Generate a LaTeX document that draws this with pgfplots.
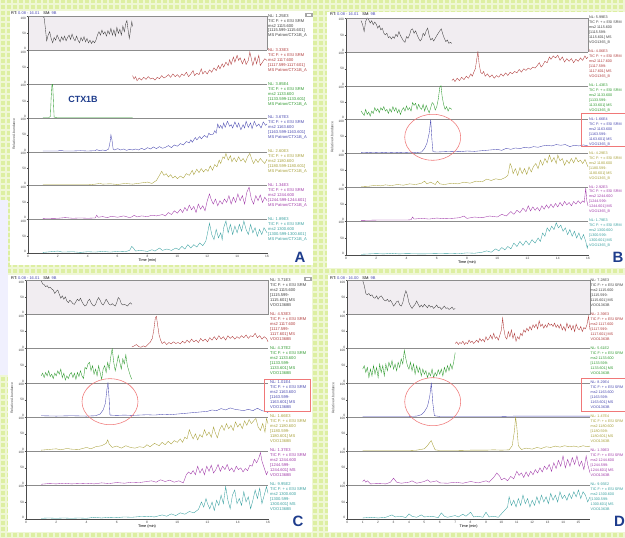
\documentclass[border=0pt]{standalone}
\usepackage{pgfplots}
\pgfplotsset{compat=1.18}
\usepackage{fontspec}
\setmainfont{Liberation Sans}
\setsansfont{Liberation Sans}
\definecolor{tk}{HTML}{404040}
\definecolor{tr}{HTML}{B03A3A}
\definecolor{tg}{HTML}{2E9A2E}
\definecolor{tb}{HTML}{4848B0}
\definecolor{to}{HTML}{A8A038}
\definecolor{tm}{HTML}{A038A8}
\definecolor{tt}{HTML}{38A0A0}
\definecolor{bgg}{HTML}{DDEFA2}
\definecolor{topbg}{HTML}{F1EDF1}
\definecolor{navy}{HTML}{1E3C8C}
\definecolor{redc}{HTML}{F07878}
\newcommand\lb{[}
\pgfplotsset{
 sub/.style={scale only axis, anchor=north west, xmin=0, ymin=0, ymax=100,
  ytick={0,50,100}, xtick=\empty, axis lines*=left, tick align=outside,
  major tick length=1.3bp,
  /pgf/number format/assume math mode=true,
  yticklabel={\ifcase\ticknum\raisebox{1.7bp}[\height][\depth]{0}\or 50\or\raisebox{-1.7bp}[\height][\depth]{100}\fi},
  ticklabel style={font=\fontsize{3.2}{3.5}\selectfont, text=black!75, inner sep=0.6bp},
  x axis line style={draw=black!45, line width=0.35bp},
  y axis line style={draw=black!70, line width=0.35bp},
  every tick/.style={black!70, line width=0.3bp},
 },
 first/.style={axis background/.style={fill=topbg},
  extra description/.code={\draw[black!45, line width=0.35bp] (rel axis cs:0,1)--(rel axis cs:1,1)--(rel axis cs:1,0);}},
 last/.style={x axis line style={draw=black!70}, xlabel={Time (min)},
  xlabel style={font=\fontsize{3.8}{4}\selectfont, inner sep=0pt, yshift=-0.6bp}},
}
% #1 left, #2 top, #3 width, #4 height, #5 xmax, #6 extra opts, #7 color, #8 coords
\newcommand\chrom[8]{%
\begin{axis}[sub, at={(#1bp,#2bp)}, width=#3bp, height=#4bp, xmax=#5, #6]
\addplot[#7, line width=0.35bp] coordinates {#8};
\end{axis}}
\newcommand\lab[4]{\node[anchor=north west, align=left, inner sep=0pt, text=#3, font=\fontsize{4.1}{5.0}\selectfont] at (#1,#2) {#4};}
\newcommand\labs[4]{\node[anchor=north west, align=left, inner sep=0pt, text=#3, font=\fontsize{3.7}{5.0}\selectfont] at (#1,#2) {#4};}
\newcommand\rt[3]{\node[anchor=west, inner sep=0pt, font=\fontsize{4}{4}\selectfont] at (#1,#2) {RT: \textcolor{tb}{#3}\quad SM: \textcolor{tb}{9B}};}
\newcommand\icon[2]{\fill[black!35] (#1,#2) rectangle ++(8,4); \fill[white] (#1+2,#2+1) rectangle ++(4,2);}
\begin{document}
\begin{tikzpicture}[x=1bp,y=1bp]
\useasboundingbox (0,0) rectangle (625,538);
\clip (0,0) rectangle (625,538);
\fill[bgg] (0,0) rectangle (625,538);
\draw[white, opacity=0.55, line width=1.3bp, step=6bp] (0,0) grid (625,538);
\fill[white] (10,273) rectangle (313,527);
\fill[white] (327,270) rectangle (626,526);
\fill[white] (8,6) rectangle (312,263);
\fill[white] (328,6) rectangle (626,263);
\fill[black!8!blue!6] (0,163) rectangle (8,338);
%================ PANEL A
\chrom{28}{521.5}{239}{33.8}{16}{first}{tk}{(1.0,100)(1.08,96)(1.15,70)(1.25,28)(1.35,45)(1.45,55)(1.55,35)(1.65,22)(1.75,38)(1.85,30)(1.95,45)(2.05,35)(2.15,25)(2.25,40)(2.35,30)(2.45,42)(2.55,28)(2.65,38)(2.75,45)(2.85,32)(2.95,48)(3.05,35)(3.15,28)(3.25,42)(3.35,30)(3.45,22)(3.55,38)(3.65,28)(3.75,40)(3.85,25)(3.95,35)(4.05,22)(4.15,30)(4.25,20)(4.35,28)(4.45,22)(4.55,30)(4.65,45)(4.75,55)(4.85,45)(4.95,60)(5.05,48)(5.15,55)(5.25,42)(5.35,58)(5.45,48)(5.55,65)(5.65,45)(5.75,60)(5.85,42)(5.95,68)(6.05,50)(6.15,62)(6.25,45)(6.35,72)(6.45,55)(6.55,80)(6.62,88)(6.7,60)(6.78,35)(6.88,65)(6.95,85)(7.0,70)}
\chrom{28}{487.7}{239}{33.8}{16}{}{tr}{(7.0,25)(7.1,15)(7.2,22)(7.3,10)(7.45,18)(7.6,12)(7.75,20)(7.9,14)(8.05,22)(8.2,15)(8.35,18)(8.5,12)(8.65,20)(8.8,16)(8.95,25)(9.1,18)(9.25,22)(9.4,28)(9.55,20)(9.7,30)(9.85,22)(10.0,28)(10.15,20)(10.3,30)(10.45,25)(10.6,35)(10.75,22)(10.9,30)(11.05,40)(11.15,25)(11.3,32)(11.45,28)(11.6,45)(11.7,30)(11.85,38)(12.0,30)(12.15,42)(12.3,35)(12.45,48)(12.6,40)(12.75,55)(12.85,45)(13.0,60)(13.1,50)(13.25,65)(13.4,55)(13.5,72)(13.6,58)(13.75,80)(13.85,65)(14.0,85)(14.1,70)(14.2,78)(14.35,60)(14.5,75)(14.6,58)(14.75,70)(14.85,95)(14.95,75)(15.05,55)(15.2,80)(15.3,60)(15.45,85)(15.55,55)(15.7,65)(15.85,75)(16.0,70)}
\chrom{28}{453.9}{239}{33.8}{16}{}{tg}{(1.0,1)(1.4,1)(1.5,5)(1.55,60)(1.6,95)(1.65,100)(1.7,50)(1.75,2)(2.0,1)(3,1)(4,1)(5,1)(6,1)(7,1)}
\chrom{28}{420.1}{239}{33.8}{16}{}{tb}{(1.0,2)(2.0,2)(2.2,4)(2.4,2)(3.0,2)(3.5,3)(4.0,2)(4.5,3)(4.6,6)(4.8,3)(5.0,5)(5.2,3)(5.4,8)(5.5,30)(5.55,50)(5.62,35)(5.7,8)(5.8,5)(6.0,9)(6.2,5)(6.4,8)(6.6,4)(6.8,7)(7.0,5)(7.2,8)(7.4,5)(7.6,10)(7.8,6)(8.0,12)(8.2,8)(8.4,14)(8.6,9)(8.8,15)(9.0,10)(9.2,13)(9.4,18)(9.6,12)(9.8,20)(10.0,16)(10.2,24)(10.4,20)(10.6,30)(10.8,26)(10.9,35)(11.0,28)(11.2,42)(11.3,35)(11.5,45)(11.6,38)(11.8,48)(12.0,42)(12.1,55)(12.2,50)(12.4,52)(12.5,62)(12.6,55)(12.7,82)(12.8,70)(12.9,78)(13.0,68)(13.1,85)(13.2,72)(13.35,90)(13.5,75)(13.6,80)(13.7,70)(13.85,88)(14.0,72)(14.1,85)(14.25,65)(14.4,80)(14.5,70)(14.6,90)(14.75,72)(14.9,85)(15.0,68)(15.15,90)(15.3,75)(15.45,82)(15.6,70)(15.75,88)(15.9,78)(16.0,82)}
\chrom{28}{386.3}{239}{33.8}{16}{}{to}{(1.0,2)(2.0,2)(3.0,2)(4.0,2)(4.5,4)(4.8,6)(5.0,4)(5.5,5)(6.0,3)(6.5,6)(7.0,4)(7.5,7)(8.0,10)(8.3,6)(8.6,15)(8.8,30)(8.95,42)(9.1,30)(9.25,35)(9.4,25)(9.55,32)(9.7,22)(9.85,28)(10.0,20)(10.2,28)(10.4,22)(10.6,35)(10.8,30)(11.0,45)(11.1,32)(11.3,48)(11.45,38)(11.6,50)(11.75,40)(11.9,48)(12.05,42)(12.2,58)(12.35,45)(12.5,62)(12.65,55)(12.8,75)(12.9,65)(13.05,85)(13.15,80)(13.25,95)(13.4,75)(13.55,88)(13.65,70)(13.8,82)(13.95,70)(14.1,85)(14.25,72)(14.4,80)(14.55,68)(14.7,85)(14.85,95)(15.0,75)(15.1,65)(15.25,78)(15.4,68)(15.55,80)(15.7,72)(15.85,65)(16.0,78)}
\chrom{28}{352.5}{239}{33.8}{16}{}{tm}{(1.0,2)(2,3)(2.5,5)(3,3)(3.5,4)(4,3)(4.5,4)(4.6,12)(4.7,6)(5,8)(5.3,5)(5.6,9)(6,6)(6.4,10)(6.8,5)(7.0,8)(7.1,12)(7.3,7)(7.6,10)(8,8)(8.3,12)(8.6,10)(9,14)(9.2,10)(9.4,20)(9.6,14)(9.8,25)(10,18)(10.2,30)(10.35,20)(10.5,35)(10.65,25)(10.8,42)(10.95,28)(11.1,38)(11.25,20)(11.4,45)(11.55,30)(11.7,40)(11.85,25)(12.0,55)(12.15,75)(12.25,60)(12.4,45)(12.55,60)(12.7,40)(12.85,55)(13.0,45)(13.15,60)(13.3,50)(13.45,70)(13.6,45)(13.75,65)(13.9,50)(14.05,75)(14.2,55)(14.35,70)(14.5,45)(14.65,80)(14.8,95)(14.95,60)(15.1,45)(15.25,70)(15.4,55)(15.55,72)(15.7,50)(15.85,65)(16.0,55)}
\chrom{28}{318.7}{239}{33.8}{16}{last, xtick={0,2,...,16}}{tt}{(1.0,2)(1.5,4)(2.0,6)(2.3,3)(3,4)(3.5,2)(4,4)(4.5,3)(5,5)(5.5,3)(6,5)(6.5,4)(6.8,8)(6.95,20)(7.05,15)(7.2,6)(7.5,8)(8,5)(8.3,10)(8.5,6)(8.8,15)(9,8)(9.3,12)(9.6,8)(9.9,15)(10.1,10)(10.3,20)(10.5,12)(10.7,25)(10.9,15)(11.1,25)(11.3,18)(11.5,30)(11.7,22)(11.9,35)(12.0,55)(12.15,88)(12.3,55)(12.45,40)(12.6,70)(12.75,45)(12.9,60)(13.0,40)(13.1,75)(13.25,95)(13.4,60)(13.55,85)(13.7,55)(13.85,80)(14.0,60)(14.15,85)(14.3,65)(14.45,95)(14.6,70)(14.75,55)(14.9,85)(15.05,60)(15.2,75)(15.35,50)(15.5,70)(15.65,55)(15.8,75)(16.0,60)}
\lab{268}{524}{tk}{NL: 1.25E3\\TIC F: + c ESI SRM\\ms2 1115.600\\\lb 1115.599-1115.601]\\MS Patron/CTX1B\_A}
\lab{268}{489.7}{tr}{NL: 3.33E3\\TIC F: + c ESI SRM\\ms2 1117.600\\\lb 1117.599-1117.601]\\MS Patron/CTX1B\_A}
\lab{268}{455.9}{tg}{NL: 3.85E4\\TIC F: + c ESI SRM\\ms2 1133.600\\\lb 1133.599-1133.601]\\MS Patron/CTX1B\_A}
\lab{268}{422.1}{tb}{NL: 3.67E3\\TIC F: + c ESI SRM\\ms2 1163.600\\\lb 1163.599-1163.601]\\MS Patron/CTX1B\_A}
\lab{268}{388.3}{to}{NL: 2.60E3\\TIC F: + c ESI SRM\\ms2 1180.600\\\lb 1180.599-1180.601]\\MS Patron/CTX1B\_A}
\lab{268}{354.5}{tm}{NL: 1.34E3\\TIC F: + c ESI SRM\\ms2 1244.600\\\lb 1244.599-1244.601]\\MS Patron/CTX1B\_A}
\lab{268}{320.7}{tt}{NL: 1.89E3\\TIC F: + c ESI SRM\\ms2 1300.600\\\lb 1300.599-1300.601]\\MS Patron/CTX1B\_A}
\rt{11}{524.5}{0.08 - 16.01}
\icon{305}{521}
\node[rotate=90, font=\fontsize{3.5}{4}\selectfont, text=black!70] at (14,404) {Relative Abundance};
\node[font=\fontsize{9}{9}\selectfont\bfseries, text=navy] at (83,439) {CTX1B};
\node[font=\fontsize{15}{15}\selectfont\bfseries, text=navy] at (300,281) {A};
%================ PANEL B
\chrom{346}{520}{242}{33.85}{16}{first}{tk}{(1.0,92)(1.1,80)(1.2,60)(1.3,90)(1.4,100)(1.5,95)(1.6,85)(1.7,92)(1.8,80)(1.9,88)(2.0,82)(2.1,70)(2.2,78)(2.3,65)(2.4,70)(2.5,55)(2.6,50)(2.7,55)(2.8,42)(2.9,45)(3.0,38)(3.1,45)(3.2,40)(3.3,52)(3.4,45)(3.5,60)(3.6,48)(3.7,40)(3.8,32)(3.9,28)(4.0,45)(4.1,40)(4.2,50)(4.3,65)(4.4,68)(4.5,55)(4.6,62)(4.7,50)(4.8,40)(4.9,32)(5.0,38)(5.1,55)(5.2,48)(5.3,62)(5.4,70)(5.5,48)(5.6,35)(5.7,40)(5.8,32)(5.9,40)(6.0,48)(6.1,55)(6.2,62)(6.3,68)(6.4,52)(6.5,40)(6.6,30)(6.7,35)(6.8,25)(6.9,28)(7.0,25)}
\chrom{346}{486.15}{242}{33.85}{16}{}{tr}{(7.0,15)(7.1,20)(7.2,12)(7.35,22)(7.5,15)(7.65,25)(7.8,18)(7.95,28)(8.1,22)(8.25,35)(8.35,28)(8.45,40)(8.55,50)(8.65,80)(8.72,100)(8.8,65)(8.9,40)(9.0,35)(9.1,42)(9.2,28)(9.35,35)(9.5,25)(9.65,32)(9.8,22)(9.95,30)(10.1,25)(10.25,35)(10.4,28)(10.55,38)(10.7,30)(10.85,40)(11.0,35)(11.15,42)(11.3,38)(11.45,48)(11.6,40)(11.75,50)(11.9,45)(12.05,52)(12.2,48)(12.35,55)(12.5,52)(12.65,60)(12.78,68)(12.9,55)(13.0,60)(13.15,72)(13.3,68)(13.45,85)(13.55,78)(13.7,88)(13.85,82)(14.0,90)(14.15,75)(14.3,85)(14.45,70)(14.6,80)(14.75,72)(14.9,80)(15.05,68)(15.2,78)(15.35,72)(15.5,82)(15.65,75)(15.8,88)(15.9,80)(16.0,85)}
\chrom{346}{452.3}{242}{33.85}{16}{}{tg}{(1.0,25)(1.1,18)(1.2,12)(1.3,30)(1.4,15)(1.5,22)(1.6,10)(1.7,25)(1.8,18)(1.9,35)(2.0,25)(2.1,32)(2.2,20)(2.3,35)(2.4,28)(2.5,38)(2.6,25)(2.7,30)(2.8,18)(2.9,32)(3.0,22)(3.1,38)(3.2,25)(3.3,35)(3.4,20)(3.5,30)(3.6,15)(3.7,28)(3.8,35)(3.9,25)(4.0,40)(4.1,28)(4.2,35)(4.3,25)(4.4,50)(4.5,42)(4.6,48)(4.7,30)(4.8,45)(4.9,35)(5.0,30)(5.1,45)(5.2,25)(5.3,42)(5.4,30)(5.5,20)(5.6,35)(5.7,50)(5.8,45)(5.9,28)(6.0,38)(6.1,60)(6.2,95)(6.28,100)(6.35,70)(6.45,45)(6.55,30)(6.65,38)(6.75,25)(6.85,35)(7.0,30)}
\chrom{346}{418.45}{242}{33.85}{16}{}{tb}{(1.0,3)(1.5,2)(2,3)(2.5,2)(3,3)(3.5,2)(4,3)(4.5,2)(5.0,4)(5.2,15)(5.35,30)(5.5,60)(5.6,100)(5.68,40)(5.75,5)(6.0,4)(6.5,5)(7,6)(7.5,5)(8,7)(8.5,6)(9,8)(9.5,10)(10,12)(10.3,9)(10.6,15)(10.9,12)(11.2,16)(11.5,14)(11.8,18)(12.1,16)(12.4,20)(12.7,18)(13.0,22)(13.3,24)(13.6,22)(13.9,26)(14.2,24)(14.5,26)(14.8,20)(15.1,24)(15.4,22)(15.7,25)(16.0,22)}
\chrom{346}{384.6}{242}{33.85}{16}{}{to}{(1.0,2)(1.5,3)(2.0,6)(2.3,4)(2.6,7)(3.0,5)(3.4,8)(3.8,6)(4.2,10)(4.6,8)(5.0,12)(5.2,18)(5.35,10)(5.6,15)(5.9,8)(6.05,18)(6.2,10)(6.5,8)(7.0,12)(7.4,10)(7.8,15)(8.2,12)(8.6,18)(9.0,16)(9.3,24)(9.6,20)(9.9,25)(10.2,22)(10.5,28)(10.7,35)(10.85,70)(10.95,60)(11.05,40)(11.2,55)(11.35,35)(11.5,58)(11.65,40)(11.8,55)(11.95,38)(12.1,60)(12.25,45)(12.4,62)(12.55,70)(12.7,55)(12.85,80)(13.0,65)(13.15,85)(13.3,72)(13.45,95)(13.6,75)(13.75,88)(13.9,70)(14.0,95)(14.15,78)(14.3,85)(14.45,65)(14.6,80)(14.75,70)(14.9,85)(15.05,72)(15.2,88)(15.35,75)(15.5,80)(15.65,70)(15.8,82)(16.0,60)}
\chrom{346}{350.75}{242}{33.85}{16}{}{tm}{(1.0,2)(2,3)(3,3)(4,3)(4.3,4)(4.4,12)(4.5,6)(5,8)(5.5,6)(6,9)(6.5,7)(7,8)(7.5,10)(7.8,15)(8.0,8)(8.5,12)(9,10)(9.5,15)(10,12)(10.3,20)(10.6,15)(10.9,28)(11.1,20)(11.3,32)(11.5,25)(11.7,38)(11.9,28)(12.05,45)(12.2,30)(12.35,42)(12.5,32)(12.65,40)(12.8,30)(12.95,45)(13.1,35)(13.25,48)(13.4,38)(13.55,50)(13.7,40)(13.85,52)(14.0,42)(14.15,55)(14.3,45)(14.45,58)(14.6,48)(14.75,55)(14.9,45)(15.05,58)(15.2,50)(15.35,60)(15.5,52)(15.65,60)(15.75,55)(15.85,98)(15.92,60)(16.0,45)}
\chrom{346}{316.9}{242}{33.85}{16}{last, xtick={0,2,...,16}}{tt}{(1.0,2)(2,4)(2.5,3)(3,5)(3.5,3)(4,4)(5,3)(6,4)(7,5)(7.5,4)(8,6)(8.5,5)(9,8)(9.3,12)(9.6,8)(9.9,18)(10.1,12)(10.3,22)(10.5,15)(10.7,25)(10.9,18)(11.1,35)(11.3,25)(11.5,40)(11.7,28)(11.9,42)(12.1,30)(12.3,45)(12.5,35)(12.7,50)(12.85,40)(13.0,65)(13.15,55)(13.3,80)(13.45,70)(13.6,85)(13.75,75)(13.9,95)(14.05,80)(14.2,88)(14.35,70)(14.5,80)(14.65,60)(14.8,75)(14.95,55)(15.1,70)(15.25,50)(15.4,65)(15.55,45)(15.7,60)(15.85,40)(15.95,20)(16.0,30)}
\labs{589}{522}{tk}{NL: 5.99E3\\TIC F: + c ESI SRM\\ms2 1115.600\\\lb 1115.599-\\1115.601] MS\\VOO1365\_B}
\labs{589}{488.15}{tr}{NL: 4.06E3\\TIC F: + c ESI SRM\\ms2 1117.600\\\lb 1117.599-\\1117.601] MS\\VOO1365\_B}
\labs{589}{454.3}{tg}{NL: 1.43E3\\TIC F: + c ESI SRM\\ms2 1133.600\\\lb 1133.599-\\1133.601] MS\\VOO1365\_B}
\labs{589}{420.45}{tb}{NL: 1.66E4\\TIC F: + c ESI SRM\\ms2 1163.600\\\lb 1163.599-\\1163.601] MS\\VOO1365\_B}
\labs{589}{386.6}{to}{NL: 4.29E3\\TIC F: + c ESI SRM\\ms2 1180.600\\\lb 1180.599-\\1180.601] MS\\VOO1365\_B}
\labs{589}{352.75}{tm}{NL: 2.92E3\\TIC F: + c ESI SRM\\ms2 1244.600\\\lb 1244.599-\\1244.601] MS\\VOO1365\_B}
\labs{589}{318.9}{tt}{NL: 1.79E3\\TIC F: + c ESI SRM\\ms2 1300.600\\\lb 1300.599-\\1300.601] MS\\VOO1365\_B}
\rt{330}{524}{0.08 - 16.01}
\node[rotate=90, font=\fontsize{3.5}{4}\selectfont, text=black!70] at (332,401) {Relative Abundance};
\draw[redc, line width=0.55bp] (432.7,400.7) ellipse [x radius=28, y radius=23];
\draw[redc, line width=0.55bp] (581.7,424.7) rectangle (630,392);
\node[font=\fontsize{15}{15}\selectfont\bfseries, text=navy] at (618,281) {B};
%================ PANEL C
\chrom{26}{257.5}{242}{34.07}{16}{first}{tk}{(1.0,100)(1.1,90)(1.2,88)(1.3,82)(1.4,85)(1.5,78)(1.6,80)(1.7,75)(1.8,72)(1.9,62)(2.0,68)(2.1,72)(2.2,60)(2.3,48)(2.4,55)(2.5,45)(2.6,52)(2.7,40)(2.8,35)(2.9,42)(3.0,38)(3.1,32)(3.2,30)(3.3,38)(3.4,45)(3.5,40)(3.6,48)(3.7,38)(3.8,30)(3.9,25)(4.0,28)(4.1,40)(4.2,45)(4.3,35)(4.4,28)(4.5,25)(4.6,30)(4.7,42)(4.8,50)(4.9,42)(5.0,32)(5.1,28)(5.2,35)(5.3,45)(5.4,38)(5.5,30)(5.6,28)(5.7,32)(5.8,28)(5.9,25)(6.0,35)(6.1,50)(6.2,45)(6.3,32)(6.4,28)(6.5,30)(6.6,28)(6.7,25)(6.8,30)(6.9,35)(7.0,30)}
\chrom{26}{223.43}{242}{34.07}{16}{}{tr}{(7.0,5)(7.15,8)(7.3,12)(7.45,6)(7.6,4)(7.75,8)(7.9,5)(8.05,12)(8.2,18)(8.35,30)(8.45,55)(8.55,90)(8.62,95)(8.7,70)(8.8,40)(8.9,25)(9.0,15)(9.15,20)(9.3,12)(9.45,18)(9.6,14)(9.75,20)(9.9,15)(10.05,18)(10.2,14)(10.35,22)(10.5,16)(10.65,25)(10.8,18)(10.95,28)(11.1,20)(11.25,25)(11.4,18)(11.55,30)(11.7,22)(11.85,28)(12.0,20)(12.15,32)(12.3,25)(12.45,35)(12.6,26)(12.75,38)(12.9,28)(13.05,35)(13.2,25)(13.35,38)(13.5,30)(13.65,36)(13.8,28)(13.95,35)(14.1,30)(14.25,38)(14.4,32)(14.55,40)(14.7,30)(14.85,38)(15.0,35)(15.15,45)(15.3,32)(15.45,38)(15.6,28)(15.75,35)(15.9,30)(16.0,20)}
\chrom{26}{189.36}{242}{34.07}{16}{}{tg}{(1.0,20)(1.1,28)(1.2,15)(1.3,30)(1.4,20)(1.5,35)(1.6,18)(1.7,25)(1.8,12)(1.9,28)(2.0,20)(2.1,35)(2.2,25)(2.3,40)(2.4,15)(2.5,28)(2.6,8)(2.7,20)(2.8,12)(2.9,25)(3.0,30)(3.1,15)(3.2,28)(3.3,10)(3.4,30)(3.5,18)(3.6,35)(3.7,20)(3.8,12)(3.9,45)(4.0,40)(4.1,55)(4.2,60)(4.3,35)(4.4,50)(4.5,25)(4.6,40)(4.7,20)(4.8,50)(4.9,30)(5.0,10)(5.1,40)(5.2,50)(5.3,30)(5.4,60)(5.5,40)(5.6,75)(5.7,100)(5.8,60)(5.9,35)(6.0,55)(6.1,80)(6.2,60)(6.3,40)(6.4,70)(6.5,55)(6.6,82)(6.7,50)(6.8,35)(6.9,20)(7.0,10)}
\chrom{26}{155.29}{242}{34.07}{16}{}{tb}{(1.0,3)(2,2)(3,3)(4,2)(4.6,3)(4.9,8)(5.1,20)(5.25,40)(5.35,80)(5.42,100)(5.5,50)(5.55,5)(6,4)(6.5,5)(7,4)(7.5,5)(8,6)(8.5,5)(9,7)(9.5,6)(10,8)(10.5,10)(11,12)(11.5,14)(12,16)(12.3,20)(12.6,18)(12.9,24)(13.2,20)(13.5,26)(13.8,22)(14.1,20)(14.4,18)(14.7,22)(15.0,18)(15.3,25)(15.6,18)(15.9,15)(16.0,12)}
\chrom{26}{121.22}{242}{34.07}{16}{}{to}{(1.0,2)(1.5,4)(2.0,6)(2.3,3)(2.7,7)(3.0,5)(3.5,4)(4.0,10)(4.3,6)(4.6,12)(5.0,15)(5.3,22)(5.4,32)(5.5,20)(5.7,10)(6.0,14)(6.3,8)(6.6,15)(6.9,10)(7.2,8)(7.5,12)(7.8,10)(8.0,18)(8.2,12)(8.5,22)(8.8,15)(9.0,25)(9.2,18)(9.4,28)(9.6,20)(9.8,30)(10.0,25)(10.2,35)(10.35,25)(10.5,40)(10.65,35)(10.8,62)(10.9,50)(11.05,35)(11.2,50)(11.35,32)(11.5,48)(11.65,40)(11.8,62)(11.95,45)(12.1,55)(12.25,40)(12.4,70)(12.5,55)(12.65,38)(12.8,62)(12.95,75)(13.1,60)(13.25,80)(13.4,65)(13.55,75)(13.7,60)(13.85,85)(14.0,70)(14.15,80)(14.3,65)(14.45,88)(14.6,75)(14.75,92)(14.9,80)(15.05,88)(15.2,95)(15.35,70)(15.5,60)(15.65,80)(15.8,55)(15.9,95)(16.0,80)}
\chrom{26}{87.15}{242}{34.07}{16}{}{tm}{(1.0,2)(1.5,4)(2,3)(2.5,5)(3,3)(3.5,4)(4,5)(4.5,3)(5,6)(5.5,4)(6,7)(6.5,5)(7,8)(7.5,7)(8,10)(8.3,12)(8.6,8)(8.9,15)(9.2,10)(9.5,14)(9.8,8)(10.1,12)(10.4,6)(10.6,30)(10.75,38)(10.9,32)(11.05,42)(11.2,30)(11.35,55)(11.5,35)(11.65,48)(11.8,30)(11.95,55)(12.1,40)(12.25,58)(12.4,35)(12.55,45)(12.7,60)(12.85,40)(13.0,55)(13.15,45)(13.3,60)(13.45,42)(13.6,50)(13.75,38)(13.9,55)(14.05,45)(14.2,50)(14.35,38)(14.5,48)(14.65,42)(14.8,58)(14.95,55)(15.1,75)(15.25,65)(15.4,80)(15.5,95)(15.6,70)(15.75,50)(15.9,30)(16.0,40)}
\chrom{26}{53.08}{242}{34.07}{16}{last, xtick={0,2,...,16}}{tt}{(1.0,2)(1.5,3)(2,2)(2.5,3)(3,2)(3.5,3)(4,2)(4.5,5)(5,3)(5.5,5)(6,4)(6.5,6)(7,5)(7.5,7)(8,8)(8.5,6)(9,12)(9.3,8)(9.6,15)(9.9,10)(10.2,18)(10.5,14)(10.8,22)(11.1,18)(11.4,28)(11.6,50)(11.75,35)(11.9,60)(12.0,45)(12.15,30)(12.3,50)(12.45,25)(12.6,55)(12.75,40)(12.9,70)(13.05,45)(13.2,95)(13.35,55)(13.5,30)(13.65,70)(13.8,85)(13.95,45)(14.1,60)(14.25,40)(14.4,80)(14.55,50)(14.7,65)(14.85,30)(15.0,55)(15.15,85)(15.3,60)(15.45,90)(15.6,45)(15.75,70)(15.9,95)(16.0,75)}
\lab{270}{259.5}{tk}{NL: 3.71E3\\TIC F: + c ESI SRM\\ms2 1115.600\\\lb 1115.599-\\1115.601] MS\\VOO1368B}
\lab{270}{225.43}{tr}{NL: 4.53E3\\TIC F: + c ESI SRM\\ms2 1117.600\\\lb 1117.599-\\1117.601] MS\\VOO1368B}
\lab{270}{191.36}{tg}{NL: 4.37E2\\TIC F: + c ESI SRM\\ms2 1133.600\\\lb 1133.599-\\1133.601] MS\\VOO1368B}
\lab{270}{157.29}{tb}{NL: 1.01E4\\TIC F: + c ESI SRM\\ms2 1163.600\\\lb 1163.599-\\1163.601] MS\\VOO1368B}
\lab{270}{123.22}{to}{NL: 1.66E3\\TIC F: + c ESI SRM\\ms2 1180.600\\\lb 1180.599-\\1180.601] MS\\VOO1368B}
\lab{270}{89.15}{tm}{NL: 1.37E3\\TIC F: + c ESI SRM\\ms2 1244.600\\\lb 1244.599-\\1244.601] MS\\VOO1368B}
\lab{270}{55.08}{tt}{NL: 9.95E2\\TIC F: + c ESI SRM\\ms2 1300.600\\\lb 1300.599-\\1300.601] MS\\VOO1368B}
\rt{11}{260}{0.08 - 16.01}
\icon{304}{257}
\node[rotate=90, font=\fontsize{3.5}{4}\selectfont, text=black!70] at (12,140) {Relative Abundance};
\draw[redc, line width=0.55bp] (110,136.3) ellipse [x radius=28, y radius=23];
\draw[redc, line width=0.55bp] (264.3,159) rectangle (310.7,126.3);
\node[font=\fontsize{15}{15}\selectfont\bfseries, text=navy] at (298,17) {C};
%================ PANEL D
\chrom{347.3}{257.5}{242.7}{34.07}{15.75}{first}{tk}{(1.0,100)(1.1,85)(1.2,62)(1.3,58)(1.4,62)(1.5,55)(1.6,58)(1.7,50)(1.8,48)(1.9,55)(2.0,45)(2.1,52)(2.2,55)(2.3,48)(2.4,42)(2.5,40)(2.6,45)(2.7,38)(2.8,42)(2.9,35)(3.0,25)(3.1,30)(3.2,38)(3.3,40)(3.4,28)(3.5,25)(3.6,35)(3.7,55)(3.8,70)(3.88,60)(4.0,35)(4.1,25)(4.2,18)(4.3,25)(4.4,30)(4.5,40)(4.6,30)(4.7,22)(4.8,28)(4.9,22)(5.0,30)(5.1,25)(5.2,20)(5.3,28)(5.4,22)(5.5,25)(5.6,18)(5.7,22)(5.8,28)(5.9,20)(6.0,22)(6.1,15)(6.2,20)(6.3,25)(6.4,18)(6.5,20)(6.6,15)(6.7,18)(6.8,22)(6.9,15)(7.0,18)}
\chrom{347.3}{223.43}{242.7}{34.07}{15.75}{}{tr}{(7.0,15)(7.1,20)(7.2,12)(7.3,18)(7.4,15)(7.5,22)(7.6,12)(7.7,18)(7.8,14)(7.9,25)(8.0,18)(8.1,22)(8.2,15)(8.3,20)(8.4,25)(8.5,18)(8.6,30)(8.7,22)(8.8,28)(8.9,20)(9.0,35)(9.1,25)(9.2,30)(9.3,40)(9.4,28)(9.5,45)(9.6,30)(9.7,35)(9.8,25)(9.9,40)(10.0,55)(10.08,90)(10.15,60)(10.25,35)(10.35,28)(10.45,50)(10.55,35)(10.65,55)(10.75,30)(10.85,45)(10.95,22)(11.05,35)(11.15,28)(11.25,45)(11.35,38)(11.45,55)(11.55,48)(11.65,60)(11.75,52)(11.85,65)(11.95,55)(12.05,70)(12.15,62)(12.25,72)(12.35,58)(12.45,82)(12.55,65)(12.65,72)(12.75,60)(12.85,70)(12.95,62)(13.05,75)(13.15,68)(13.25,72)(13.35,65)(13.45,75)(13.55,62)(13.65,70)(13.75,60)(13.85,72)(13.95,55)(14.05,65)(14.15,52)(14.25,75)(14.35,60)(14.45,70)(14.55,55)(14.65,68)(14.75,50)(14.85,72)(14.95,60)(15.05,55)(15.15,65)(15.25,50)(15.35,62)(15.45,58)(15.55,70)(15.65,95)(15.75,55)}
\chrom{347.3}{189.36}{242.7}{34.07}{15.75}{}{tg}{(1.0,40)(1.1,50)(1.2,30)(1.3,45)(1.4,15)(1.5,40)(1.6,20)(1.7,50)(1.8,25)(1.9,45)(2.0,15)(2.1,55)(2.2,30)(2.3,50)(2.4,20)(2.5,55)(2.6,35)(2.7,60)(2.8,45)(2.9,65)(3.0,40)(3.1,55)(3.2,35)(3.3,60)(3.4,45)(3.5,70)(3.6,55)(3.7,95)(3.8,70)(3.9,50)(4.0,40)(4.1,60)(4.2,35)(4.3,55)(4.4,25)(4.5,50)(4.6,30)(4.7,45)(4.8,20)(4.9,40)(5.0,25)(5.1,35)(5.2,15)(5.3,30)(5.4,20)(5.5,40)(5.6,15)(5.7,30)(5.8,20)(5.9,38)(6.0,25)(6.1,40)(6.2,20)(6.3,45)(6.4,30)(6.5,50)(6.6,35)(6.7,55)(6.8,40)(6.9,60)(7.0,88)}
\chrom{347.3}{155.29}{242.7}{34.07}{15.75}{}{tb}{(1.0,1)(2,1)(3,1)(4,1)(4.5,2)(4.8,6)(5.0,15)(5.2,30)(5.35,60)(5.45,100)(5.55,40)(5.65,3)(6,1)(7,1)(8,1)(9,1)(10,1)(11,2)(12,2)(13,2)(14,2)(15,2)(15.75,2)}
\chrom{347.3}{121.22}{242.7}{34.07}{15.75}{}{to}{(1.0,1)(2,1)(3,1)(4,1)(4.5,2)(5.0,6)(5.2,15)(5.35,25)(5.45,30)(5.55,18)(5.7,3)(6,1)(7,1)(8,2)(9,2)(9.5,3)(10.0,2)(10.5,3)(10.7,15)(10.85,60)(10.92,100)(11.0,70)(11.1,15)(11.3,4)(11.6,8)(12.0,5)(12.3,10)(12.6,7)(12.9,12)(13.2,10)(13.5,14)(13.8,11)(14.1,15)(14.4,12)(14.7,14)(15.0,11)(15.3,15)(15.6,12)(15.75,14)}
\chrom{347.3}{87.15}{242.7}{34.07}{15.75}{}{tm}{(1.0,10)(1.1,15)(1.2,8)(1.3,12)(1.5,3)(2.0,4)(2.5,3)(2.8,8)(3.0,20)(3.2,8)(3.5,5)(4.0,8)(4.2,12)(4.5,5)(5.0,10)(5.2,15)(5.4,8)(5.8,12)(6.0,6)(6.5,5)(7.0,8)(7.5,5)(8.0,10)(8.5,6)(9.0,12)(9.2,8)(9.5,22)(9.7,35)(9.9,25)(10.0,15)(10.2,20)(10.4,12)(10.6,25)(10.8,18)(11.0,40)(11.15,28)(11.3,35)(11.45,22)(11.6,38)(11.75,25)(11.9,40)(12.05,30)(12.2,45)(12.35,35)(12.5,50)(12.65,38)(12.8,55)(12.95,45)(13.1,60)(13.25,40)(13.4,65)(13.55,48)(13.7,72)(13.85,55)(14.0,85)(14.15,50)(14.3,75)(14.45,55)(14.6,80)(14.75,60)(14.9,85)(15.05,55)(15.2,70)(15.35,45)(15.5,85)(15.6,60)(15.75,35)}
\chrom{347.3}{53.08}{242.7}{34.07}{15.75}{last, xtick={0,1,...,15}}{tt}{(1.0,3)(1.5,5)(2.0,3)(2.5,5)(2.9,12)(3.1,6)(3.5,8)(3.8,4)(4.0,15)(4.2,8)(4.5,5)(4.8,12)(5.0,6)(5.5,8)(5.9,4)(6.1,18)(6.3,8)(6.5,5)(7.0,10)(7.2,6)(7.5,14)(7.7,8)(8.0,20)(8.2,6)(8.5,8)(8.8,5)(9.0,20)(9.2,6)(9.5,8)(9.8,5)(10.0,15)(10.2,25)(10.4,35)(10.5,65)(10.65,40)(10.8,55)(10.95,35)(11.1,60)(11.25,40)(11.4,70)(11.55,45)(11.7,60)(11.85,35)(12.0,55)(12.15,40)(12.3,65)(12.45,45)(12.6,70)(12.75,50)(12.9,65)(13.05,45)(13.2,75)(13.35,55)(13.5,70)(13.65,50)(13.8,80)(13.95,60)(14.1,70)(14.25,55)(14.4,75)(14.55,60)(14.7,80)(14.85,65)(15.0,85)(15.15,60)(15.3,80)(15.45,70)(15.6,50)(15.75,65)}
\labs{590.5}{259.5}{tk}{NL: 7.28E3\\TIC F: + c ESI SRM\\ms2 1115.600\\\lb 1115.599-\\1115.601] MS\\VOO1363B}
\labs{590.5}{225.43}{tr}{NL: 2.39E3\\TIC F: + c ESI SRM\\ms2 1117.600\\\lb 1117.599-\\1117.601] MS\\VOO1363B}
\labs{590.5}{191.36}{tg}{NL: 5.61E2\\TIC F: + c ESI SRM\\ms2 1133.600\\\lb 1133.599-\\1133.601] MS\\VOO1363B}
\labs{590.5}{157.29}{tb}{NL: 8.29E4\\TIC F: + c ESI SRM\\ms2 1163.600\\\lb 1163.599-\\1163.601] MS\\VOO1363B}
\labs{590.5}{123.22}{to}{NL: 1.47E4\\TIC F: + c ESI SRM\\ms2 1180.600\\\lb 1180.599-\\1180.601] MS\\VOO1363B}
\labs{590.5}{89.15}{tm}{NL: 1.39E3\\TIC F: + c ESI SRM\\ms2 1244.600\\\lb 1244.599-\\1244.601] MS\\VOO1363B}
\labs{590.5}{55.08}{tt}{NL: 9.93E2\\TIC F: + c ESI SRM\\ms2 1300.600\\\lb 1300.599-\\1300.601] MS\\VOO1363B}
\rt{330}{260}{0.08 - 16.00}
\node[rotate=90, font=\fontsize{3.5}{4}\selectfont, text=black!70] at (333,140) {Relative Abundance};
\draw[redc, line width=0.55bp] (432.7,136.3) ellipse [x radius=28, y radius=24];
\draw[redc, line width=0.55bp] (581.7,159.7) rectangle (630,127);
\node[font=\fontsize{15}{15}\selectfont\bfseries, text=navy] at (619.5,17) {D};
\end{tikzpicture}
\end{document}
